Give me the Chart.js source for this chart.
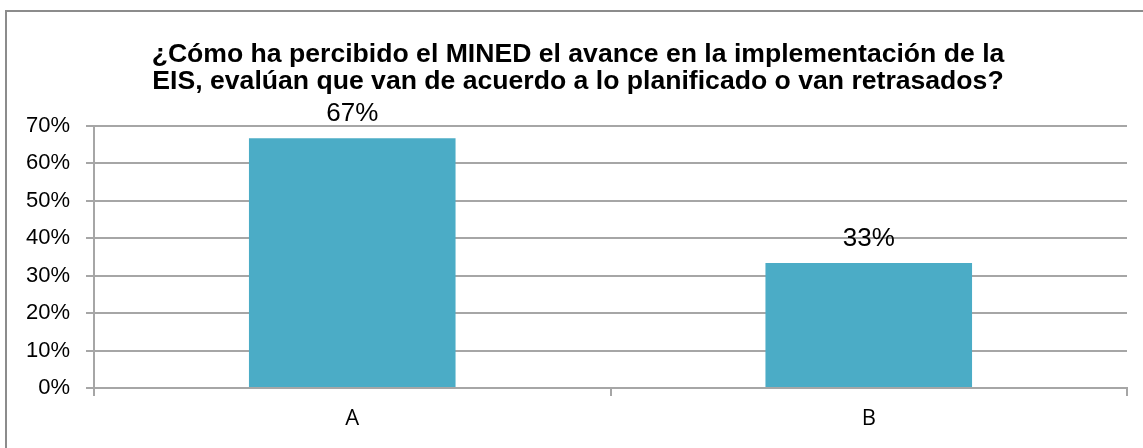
<!DOCTYPE html>
<html>
<head>
<meta charset="utf-8">
<script src="https://cdn.jsdelivr.net/npm/chart.js@4/dist/chart.umd.min.js"></script>
<style>
  html, body { margin: 0; padding: 0; background: #fff; overflow: hidden; }
  #frame {
    position: absolute; left: 5px; top: 10px;
    width: 1160px; height: 460px;
    border: 2px solid #8c8c8c; box-sizing: border-box;
  }
  #wrap { position: absolute; left: 0; top: 0; width: 1143px; height: 448px; }
</style>
</head>
<body>
<div id="frame"></div>
<div id="wrap"><canvas id="myChart"></canvas></div>
<script>
// chart data
const categories = ['A', 'B'];
const values = [0.6667, 0.3333];
const valueLabels = ['67%', '33%'];
const titleLines = [
  '¿Cómo ha percibido el MINED el avance en la implementación de la',
  'EIS, evalúan que van de acuerdo a lo planificado o van retrasados?'
];
const yTicks = [0, 0.1, 0.2, 0.3, 0.4, 0.5, 0.6, 0.7];

// draw the value text above each bar
const barLabels = {
  id: 'barLabels',
  afterDatasetsDraw(chart) {
    const ctx = chart.ctx;
    const meta = chart.getDatasetMeta(0);
    ctx.save();
    ctx.font = '26px "Liberation Sans", Arial, sans-serif';
    ctx.fillStyle = '#000';
    ctx.textAlign = 'center';
    ctx.textBaseline = 'bottom';
    meta.data.forEach((bar, i) => {
      ctx.fillText(valueLabels[i], bar.x, bar.y - 11);
    });
    ctx.restore();
  }
};

// title sits a little right of the canvas centre in the original
const titleShift = {
  id: 'titleShift',
  afterLayout(chart) {
    if (chart.titleBlock) chart.titleBlock.left += 17;
  }
};

const ctx = document.getElementById('myChart').getContext('2d');

const myChart = new Chart(ctx, {
  type: 'bar',
  data: {
    labels: categories,
    datasets: [{
      data: values,
      backgroundColor: '#4bacc6',
      borderWidth: 0,
      barPercentage: 0.4,
      categoryPercentage: 1.0,
    }],
  },
  options: {
    responsive: true,
    maintainAspectRatio: false,
    animation: false,
    layout: { padding: { left: 12, right: 16, top: 0, bottom: 0 } },
    plugins: {
      legend: { display: false },
      tooltip: { enabled: false },
      title: {
        display: true,
        text: titleLines,
        color: '#000',
        font: { family: '"Liberation Sans", Arial, sans-serif', size: 26.6, weight: 'bold', lineHeight: 1.01 },
        padding: { top: 41, bottom: 31 },
      },
    },
    scales: {
      x: {
        offset: true,
        grid: {
          offset: true,
          drawOnChartArea: false,
          drawTicks: true,
          tickLength: 8,
          color: '#a6a6a6',
          lineWidth: 2,
        },
        border: { color: '#a6a6a6', width: 2 },
        ticks: {
          color: '#000',
          font: { family: '"Open Sans", sans-serif', size: 22 },
          padding: 10,
        },
        afterFit(scale) { scale.height = 60; },
      },
      y: {
        min: 0,
        max: 0.7,
        afterBuildTicks(scale) {
          scale.ticks = yTicks.map(v => ({ value: v }));
        },
        grid: {
          color: '#a6a6a6',
          lineWidth: 2,
          tickLength: 8,
        },
        border: { color: '#a6a6a6', width: 2 },
        ticks: {
          color: '#000',
          font: { family: '"Liberation Sans", Arial, sans-serif', size: 22 },
          padding: 16,
          callback: v => Math.round(v * 100) + '%',
        },
        afterFit(scale) { scale.width = 82; },
      },
    },
  },
  plugins: [barLabels, titleShift],
});
</script>
</body>
</html>
